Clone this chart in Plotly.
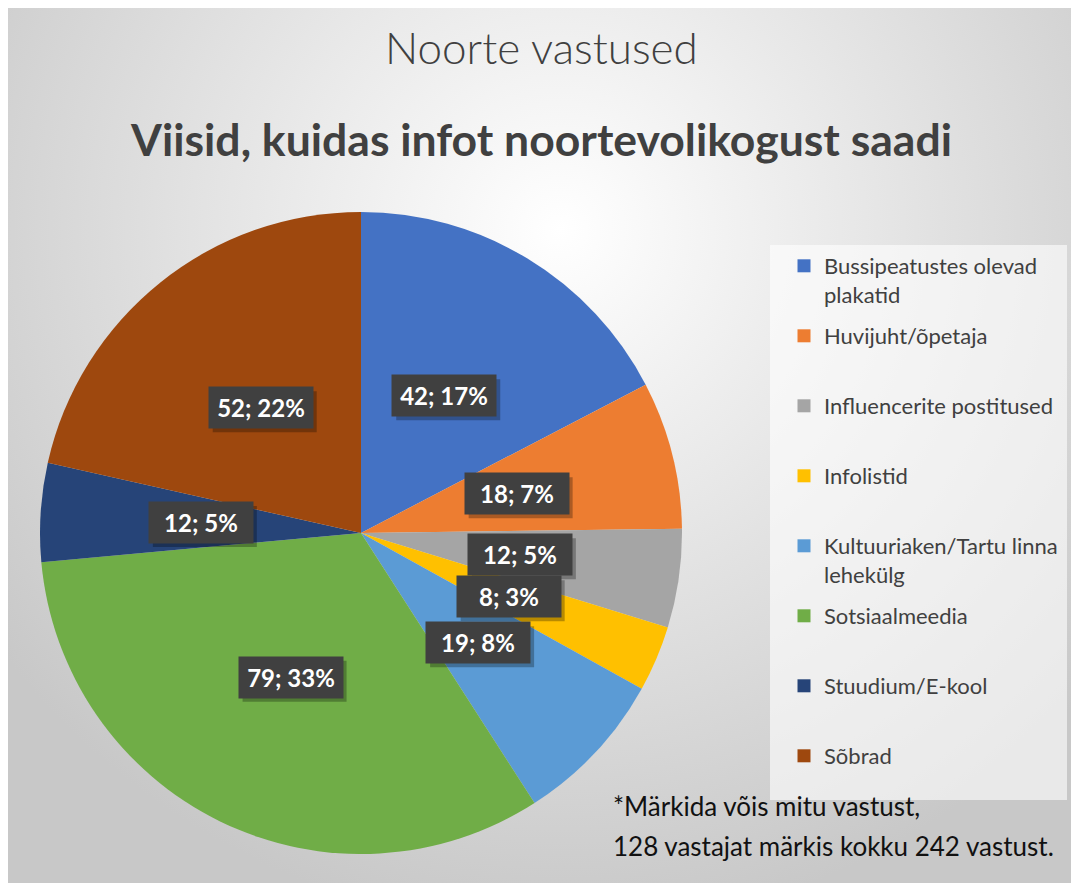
import math
import base64
import plotly.graph_objects as go

# ---- data ----
categories = [
    "Bussipeatustes olevad<br>plakatid",
    "Huvijuht/õpetaja",
    "Influencerite postitused",
    "Infolistid",
    "Kultuuriaken/Tartu linna<br>lehekülg",
    "Sotsiaalmeedia",
    "Stuudium/E-kool",
    "Sõbrad",
]
values = [42, 18, 12, 8, 19, 79, 12, 52]
percent_labels = [17, 7, 5, 3, 8, 33, 5, 22]
colors = ["#4472C4", "#ED7D31", "#A5A5A5", "#FFC000", "#5B9BD5", "#70AD47", "#264478", "#9E480E"]

title_top = "Noorte vastused"
title_main = "Viisid, kuidas infot noortevolikogust saadi"
note_lines = ["*Märkida võis mitu vastust,", "128 vastajat märkis kokku 242 vastust."]

# page has 8px body margin -> figure coords = screen coords - 8
OFF = 8
W, H = 1071, 875
FONT = "Lato"


def px_x(sx):
    return (sx - OFF) / W


def px_y(sy):
    return 1 - (sy - OFF) / H


# pie geometry (screen pixels)
CX, CY, R = 361, 533, 321
dom_x = [px_x(CX - R), px_x(CX + R)]
dom_y = [px_y(CY + R), px_y(CY - R)]

fig = go.Figure()
fig.add_trace(go.Pie(
    labels=[c.replace("<br>", " ") for c in categories],
    values=values,
    sort=False,
    direction="clockwise",
    rotation=0,
    marker=dict(colors=colors, line=dict(width=0)),
    textinfo="none",
    hoverinfo="label+value+percent",
    domain=dict(x=dom_x, y=dom_y),
    showlegend=False,
))

# legend entries (one per category, each padded to two lines)
for i, (c, col) in enumerate(zip(categories, colors)):
    name = c if "<br>" in c else c + "<br> "
    fig.add_trace(go.Scatter(
        x=[None], y=[None], mode="markers", name=name,
        marker=dict(symbol="square", size=13, color=col),
        legendgroup=f"g{i}", showlegend=True, hoverinfo="skip",
    ))

# data labels at mid-angle, half radius (with simple overlap resolution)
BW, BH = 104, 41
total = sum(values)
pos = []
cum = 0
for v in values:
    mid = (cum + v / 2) / total * 2 * math.pi
    cum += v
    pos.append([CX + 0.5 * R * math.sin(mid), CY - 0.5 * R * math.cos(mid)])
for i in range(1, len(pos)):
    a, b = pos[i - 1], pos[i]
    if abs(a[0] - b[0]) < BW and abs(a[1] - b[1]) < BH:
        need = BH + 1 - abs(a[1] - b[1])
        sgn = 1 if b[1] >= a[1] else -1
        a[1] -= sgn * need / 2
        b[1] += sgn * need / 2

annotations = []
shapes = []
for (sx, sy), v, p in zip(pos, values, percent_labels):
    txt = f"{v}; {p}%"
    shapes.append(dict(
        type="rect", xref="paper", yref="paper",
        x0=px_x(sx - BW / 2 + 4), x1=px_x(sx + BW / 2 + 4),
        y0=px_y(sy + BH / 2 + 4), y1=px_y(sy - BH / 2 + 4),
        fillcolor="rgba(0,0,0,0.28)", line=dict(width=0), layer="above",
    ))
    annotations.append(dict(
        x=px_x(sx), y=px_y(sy), xref="paper", yref="paper", text=txt,
        xanchor="center", yanchor="middle",
        showarrow=False, width=BW, height=BH,
        bgcolor="#404040", font=dict(family=FONT, size=24, color="white", weight="bold"),
        borderpad=0,
    ))

annotations.append(dict(
    x=px_x(541), y=px_y(47), xref="paper", yref="paper", text=title_top, showarrow=False,
    font=dict(family=FONT, size=44, color="#404040", weight=300), xanchor="center", yanchor="middle",
))
annotations.append(dict(
    x=px_x(541), y=px_y(138), xref="paper", yref="paper", text=title_main, showarrow=False,
    font=dict(family=FONT, size=44.5, color="#404040", weight="bold"), xanchor="center", yanchor="middle",
))
for i, line in enumerate(note_lines):
    annotations.append(dict(
        x=px_x(611), y=px_y(806 + 40 * i), xref="paper", yref="paper", text=line, showarrow=False,
        font=dict(family=FONT, size=26, color="#111111"), xanchor="left", yanchor="middle",
    ))

# legend box
shapes.insert(0, dict(
    type="rect", xref="paper", yref="paper",
    x0=px_x(770), x1=px_x(1067), y0=px_y(800), y1=px_y(245),
    fillcolor="rgba(255,255,255,0.6)", line=dict(width=0), layer="below",
))

# background gradient (svg)
svg = f'''<svg xmlns="http://www.w3.org/2000/svg" width="{W}" height="{H}" viewBox="0 0 {W} {H}" preserveAspectRatio="none">
<defs><radialGradient id="g" gradientUnits="userSpaceOnUse" cx="552" cy="222" r="700">
<stop offset="0" stop-color="#ffffff"/><stop offset="0.2" stop-color="#f4f4f4"/>
<stop offset="1" stop-color="#c8c8c8"/></radialGradient></defs>
<rect x="0" y="0" width="{W}" height="{H}" fill="url(#g)"/>
</svg>'''
src = "data:image/svg+xml;base64," + base64.b64encode(svg.encode("utf-8")).decode("ascii")

fig.update_layout(
    width=W, height=H,
    margin=dict(l=0, r=0, t=0, b=0),
    paper_bgcolor="white",
    plot_bgcolor="rgba(0,0,0,0)",
    xaxis=dict(visible=False, domain=[0.99, 1]),
    yaxis=dict(visible=False, domain=[0.99, 1]),
    images=[dict(source=src, xref="paper", yref="paper", x=0, y=1, sizex=1, sizey=1,
                 sizing="stretch", layer="below", xanchor="left", yanchor="top")],
    showlegend=True,
    legend=dict(
        x=px_x(784), y=px_y(245), xanchor="left", yanchor="top",
        bgcolor="rgba(0,0,0,0)", borderwidth=0,
        font=dict(family=FONT, size=22, color="#404040"),
        valign="top", tracegroupgap=9.8, itemclick=False, itemdoubleclick=False,
    ),
    shapes=shapes,
    annotations=annotations,
)

fig.write_html("out.html")
